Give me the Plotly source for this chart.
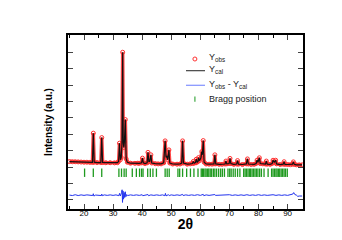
import plotly.graph_objects as go

# Observed profile (2theta, intensity in arbitrary units)
obs_x = [15.0, 16.0, 17.0, 18.0, 19.0, 20.0, 21.0, 22.0, 22.9, 23.2, 23.5, 24.5, 25.8, 26.1, 26.4,
         27.5, 29.0, 30.5, 31.5, 31.9, 32.2, 32.5, 32.8, 33.05, 33.3, 33.5, 33.7, 33.9, 34.2, 34.5,
         34.9, 36.0, 37.5, 38.5, 39.0, 39.8, 40.1, 40.4, 41.0, 41.7, 42.0, 42.3, 42.6, 43.0, 43.3,
         44.5, 45.5, 46.5, 47.4, 47.9, 48.2, 48.5, 48.8, 49.2, 49.5, 50.5, 52.0, 53.0, 53.6, 53.9,
         54.2, 55.5, 56.5, 57.3, 57.6, 57.9, 58.3, 58.6, 58.9, 59.2, 59.4, 59.7, 60.2, 60.5, 60.7,
         61.0, 61.3, 62.0, 63.0, 64.0, 64.7, 65.0, 65.3, 66.5, 67.5, 68.5, 68.8, 69.1, 69.9, 70.2,
         70.5, 71.5, 72.5, 72.8, 73.1, 74.5, 75.8, 76.2, 76.5, 77.5, 78.5, 79.2, 79.5, 79.8, 80.3,
         80.6, 81.5, 82.4, 82.7, 83.0, 84.0, 84.7, 85.0, 85.4, 85.9, 86.2, 87.5, 88.5, 88.8, 89.1,
         90.0, 91.0, 91.7, 92.0, 92.3, 93.0, 94.0, 95.0]
obs_y = [2.34, 2.33, 2.33, 2.32, 2.31, 2.30, 2.30, 2.29, 2.29, 4.07, 2.30, 2.28, 2.28, 3.80, 2.28,
         2.27, 2.27, 2.26, 2.27, 2.35, 3.46, 2.45, 2.60, 3.40, 9.00, 3.50, 3.20, 3.55, 4.90, 2.50,
         2.30, 2.24, 2.23, 2.24, 2.23, 2.26, 2.55, 2.26, 2.22, 2.26, 2.90, 2.35, 2.35, 2.75, 2.25,
         2.21, 2.20, 2.20, 2.26, 3.60, 2.60, 2.65, 2.45, 3.05, 2.25, 2.19, 2.18, 2.19, 2.25, 3.60,
         2.25, 2.18, 2.20, 2.22, 2.35, 2.24, 2.28, 2.48, 2.30, 2.35, 2.58, 2.40, 2.55, 2.95, 2.75,
         3.62, 2.30, 2.19, 2.18, 2.18, 2.20, 2.75, 2.20, 2.17, 2.17, 2.19, 2.37, 2.20, 2.22, 2.53,
         2.22, 2.17, 2.19, 2.40, 2.18, 2.16, 2.20, 2.50, 2.19, 2.16, 2.17, 2.22, 2.42, 2.30, 2.57,
         2.22, 2.20, 2.19, 2.37, 2.18, 2.17, 2.22, 2.42, 2.30, 2.42, 2.20, 2.16, 2.18, 2.33, 2.17,
         2.16, 2.15, 2.18, 2.32, 2.17, 2.14, 2.14, 2.14]

# Calculated profile (visually coincides with the observed one)
cal_x = obs_x
cal_y = obs_y

# Difference curve
diff_x = [15, 16, 17, 18, 19, 20, 21, 22, 23.0, 23.2, 23.4, 24, 25, 26.0, 26.1, 26.3, 27, 28, 29, 30,
          31, 32.0, 32.2, 32.5, 32.9, 33.1, 33.25, 33.4, 33.6, 33.8, 34.0, 34.2, 34.4, 34.7, 35, 36,
          37, 38, 39, 40, 40.2, 41, 42, 42.2, 43, 44, 45, 46, 47, 47.8, 48.0, 48.2, 49, 49.3, 50, 51,
          52, 53, 53.9, 54.1, 55, 56, 57, 58, 59, 60, 61.0, 61.2, 62, 63, 64, 65, 65.2, 66, 67, 68,
          69, 70, 71, 72, 73, 74, 75, 76, 77, 78, 79, 80, 81, 82, 83, 84, 85, 86, 87, 88, 89, 90,
          91, 91.8, 92.1, 92.5, 93, 93.5, 94, 95]
diff_y = [0.30, 0.27, 0.32, 0.27, 0.31, 0.28, 0.31, 0.28, 0.27, 0.38, 0.24, 0.30, 0.28, 0.27, 0.36,
          0.26, 0.31, 0.28, 0.31, 0.28, 0.31, 0.26, 0.40, 0.24, 0.45, 0.62, -0.15, 0.55, 0.05, 0.45,
          0.15, 0.50, 0.20, 0.33, 0.27, 0.31, 0.28, 0.31, 0.28, 0.32, 0.26, 0.30, 0.33, 0.26, 0.31,
          0.28, 0.31, 0.28, 0.31, 0.26, 0.40, 0.25, 0.32, 0.27, 0.31, 0.28, 0.31, 0.28, 0.34, 0.27,
          0.31, 0.28, 0.31, 0.28, 0.32, 0.28, 0.34, 0.26, 0.31, 0.28, 0.31, 0.33, 0.28, 0.29, 0.31,
          0.28, 0.31, 0.32, 0.28, 0.31, 0.28, 0.31, 0.28, 0.32, 0.28, 0.31, 0.28, 0.32, 0.28, 0.31,
          0.28, 0.31, 0.32, 0.28, 0.31, 0.28, 0.31, 0.28, 0.30, 0.36, 0.45, 0.33, 0.30, 0.22, 0.24,
          0.24]

# Bragg reflection positions
bragg_x = [20.2, 23.2, 26.1, 32.0, 32.9, 33.8, 34.5, 36.6, 38.0, 39.1, 39.8, 40.3, 41.9, 42.8, 43.7,
           44.9, 47.9, 48.6, 49.3, 52.3, 52.9, 53.9, 55.3, 56.6, 57.8, 59.2, 60.3, 60.7, 61.1, 61.6,
           62.0, 62.5, 62.9, 63.4, 63.9, 64.5, 65.0, 65.6, 66.3, 67.0, 67.6, 68.3, 69.5, 70.1, 70.6,
           71.3, 72.0, 72.8, 73.6, 74.9, 75.4, 75.9, 76.4, 76.9, 77.3, 77.8, 78.3, 78.8, 79.3, 79.8,
           80.4, 81.0, 81.9, 83.3, 84.5, 85.0, 85.5, 86.0, 86.4, 86.9, 87.3, 87.8, 88.3, 88.8, 89.3,
           89.9]
bragg_level = 1.66

x_ticks = [20, 30, 40, 50, 60, 70, 80, 90]

# legend labels
legend_labels = ["Y<sub>obs</sub>", "Y<sub>cal</sub>", "Y<sub>obs</sub> - Y<sub>cal</sub>", "Bragg position"]

FONT = "Arial, Liberation Sans, sans-serif"
RED = "#ff3030"
BLACK = "#111111"
BLUE = "#2233ee"
GREEN = "#1f9a1f"

fig = go.Figure()
# thick red band under the observed points
fig.add_trace(go.Scatter(x=obs_x, y=obs_y, mode="lines", showlegend=False,
                         line=dict(color="rgba(255,40,40,0.85)", width=3.5), hoverinfo="skip"))
fig.add_trace(go.Scatter(x=obs_x, y=obs_y, mode="markers", name=legend_labels[0],
                         marker=dict(symbol="circle-open", size=4, color=RED,
                                     line=dict(width=1, color=RED))))
fig.add_trace(go.Scatter(x=cal_x, y=cal_y, mode="lines", name=legend_labels[1],
                         line=dict(color=BLACK, width=1.2)))
fig.add_trace(go.Scatter(x=diff_x, y=diff_y, mode="lines", name=legend_labels[2],
                         line=dict(color=BLUE, width=1)))
fig.add_trace(go.Scatter(x=bragg_x, y=[bragg_level] * len(bragg_x), mode="markers",
                         name=legend_labels[3],
                         marker=dict(symbol="line-ns", size=6, color=GREEN,
                                     line=dict(width=1.3, color=GREEN))))

# compact legend drawn in plot-area (paper) coordinates
text_x = 0.591
text_y = [0.868, 0.800, 0.718, 0.632]
sample_x0, sample_xc, sample_x1 = 0.502, 0.540, 0.583
for lbl, ty in zip(legend_labels, text_y):
    fig.add_annotation(x=text_x, y=ty, xref="paper", yref="paper", text=lbl, showarrow=False,
                       xanchor="left", yanchor="middle",
                       font=dict(size=9, family=FONT, color="#222"))
fig.add_shape(type="circle", xref="paper", yref="paper", xsizemode="pixel", ysizemode="pixel",
              xanchor=sample_xc, yanchor=0.862, x0=-2, x1=2, y0=-2, y1=2,
              line=dict(color=RED, width=1), fillcolor="rgba(0,0,0,0)")
fig.add_shape(type="line", xref="paper", yref="paper", x0=sample_x0, x1=sample_x1,
              y0=0.795, y1=0.795, line=dict(color="#444", width=1.2))
fig.add_shape(type="line", xref="paper", yref="paper", x0=sample_x0, x1=sample_x1,
              y0=0.711, y1=0.711, line=dict(color="#8090ff", width=1.2))
fig.add_shape(type="line", xref="paper", yref="paper", x0=sample_xc, x1=sample_xc,
              y0=0.617, y1=0.647, line=dict(color="#4caf50", width=1.3))

fig.update_layout(
    width=342, height=240,
    margin=dict(l=60, r=47, t=27, b=39),
    paper_bgcolor="white", plot_bgcolor="white",
    font=dict(family=FONT, size=8, color="black"),
    showlegend=False,
)
fig.update_xaxes(range=[14.5, 95.3], tickvals=x_ticks, ticks="inside", ticklen=5, tickwidth=1.2,
                 showline=True, linecolor="black", linewidth=1.6, mirror="ticks",
                 showgrid=False, zeroline=False, tickfont=dict(size=8, family=FONT),
                 ticklabelstandoff=-4,
                 minor=dict(dtick=5, tick0=0, ticks="inside", ticklen=3, tickwidth=1.2, tickcolor="black"),
                 title=dict(text="<b>2θ</b>", font=dict(size=14, family=FONT), standoff=2))
fig.update_yaxes(range=[-0.55, 10.05], tickvals=list(range(0, 10)), showticklabels=False,
                 ticks="inside", ticklen=5, tickwidth=1.2,
                 showline=True, linecolor="black", linewidth=1.6, mirror="ticks",
                 showgrid=False, zeroline=False,
                 title=dict(text="<b>Intensity (a.u.)</b>", font=dict(size=10, family=FONT), standoff=12))

fig.write_html("out.html")
